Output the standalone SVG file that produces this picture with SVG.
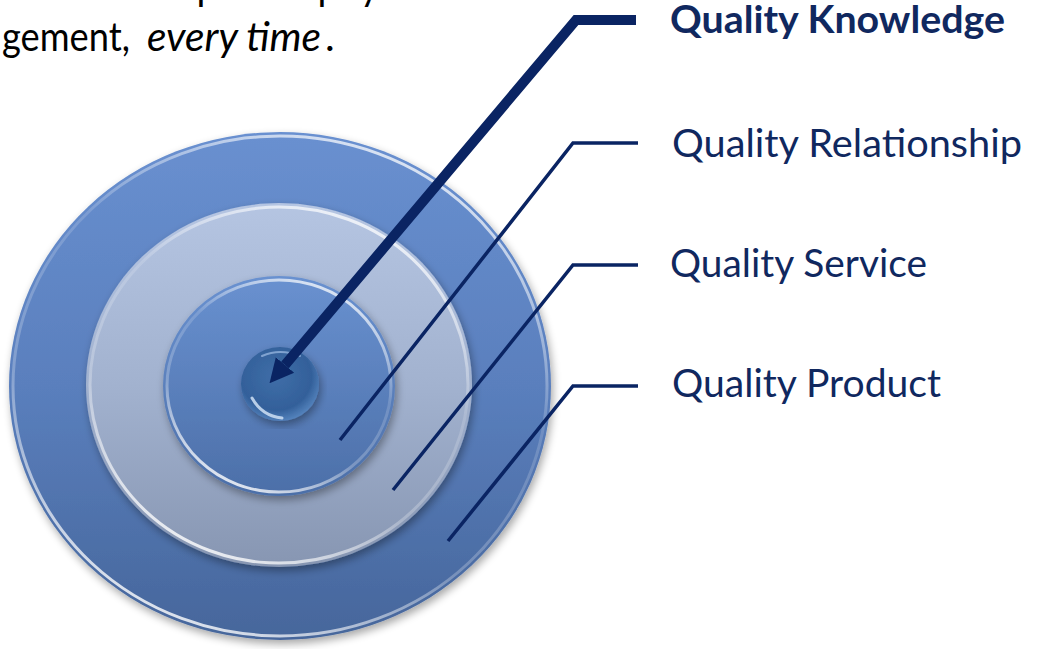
<svg xmlns="http://www.w3.org/2000/svg" width="1038" height="649" viewBox="0 0 1038 649">
  <style>
    .body { font-family: Lato, "Open Sans", "Liberation Sans", sans-serif; font-size: 41px; fill: #000; }
    .lbl { font-family: Lato, "Open Sans", "Liberation Sans", sans-serif; font-size: 38px; fill: #10285f; }
    .bold { font-weight: bold; }
    .conn { fill: none; stroke: #0a2463; stroke-linejoin: miter; }
    .thin { stroke-width: 3.5; }
    .thick { stroke-width: 10; }
    .rim { fill: none; stroke: url(#gRim); stroke-width: 3; }
  </style>
  <defs>
    <linearGradient id="gOuter" x1="0" y1="0" x2="0" y2="1">
      <stop offset="0" stop-color="#6990d0"/>
      <stop offset="0.5" stop-color="#5a7fbd"/>
      <stop offset="1" stop-color="#46669b"/>
    </linearGradient>
    <linearGradient id="gLight" x1="0" y1="0" x2="0" y2="1">
      <stop offset="0" stop-color="#b5c5e2"/>
      <stop offset="0.5" stop-color="#a2b2cf"/>
      <stop offset="1" stop-color="#8796b2"/>
    </linearGradient>
    <linearGradient id="gInner" x1="0" y1="0" x2="0" y2="1">
      <stop offset="0" stop-color="#6991d0"/>
      <stop offset="1" stop-color="#4c6fa8"/>
    </linearGradient>
    <radialGradient id="gBull" cx="0.45" cy="0.4" r="0.65">
      <stop offset="0" stop-color="#3f6ea8"/>
      <stop offset="0.7" stop-color="#33609a"/>
      <stop offset="1" stop-color="#5d8cc6"/>
    </radialGradient>
    <linearGradient id="gRim" x1="0.2" y1="1" x2="0.7" y2="0">
      <stop offset="0" stop-color="#ffffff" stop-opacity="0.95"/>
      <stop offset="0.35" stop-color="#ffffff" stop-opacity="0.25"/>
      <stop offset="0.65" stop-color="#ffffff" stop-opacity="0.15"/>
      <stop offset="1" stop-color="#ffffff" stop-opacity="0.8"/>
    </linearGradient>
    <filter id="shadow" x="-10%" y="-10%" width="120%" height="120%">
      <feGaussianBlur in="SourceAlpha" stdDeviation="4"/>
      <feOffset dx="2" dy="4" result="b"/>
      <feComponentTransfer><feFuncA type="linear" slope="0.35"/></feComponentTransfer>
      <feMerge><feMergeNode/><feMergeNode in="SourceGraphic"/></feMerge>
    </filter>
    <marker id="arrow" viewBox="0 0 10 10" refX="0" refY="5" markerWidth="2.4" markerHeight="2.6" orient="auto">
      <path d="M0,0 L10,5 L0,10 z" fill="#0a2463"/>
    </marker>
  </defs>

  <g id="intro-text">
    <text class="body" x="1" y="0" textLength="422" lengthAdjust="spacingAndGlyphs">creates the philosophy of</text>
    <text class="body" x="2" y="51" textLength="128" lengthAdjust="spacingAndGlyphs">gement,</text>
    <text class="body" x="147" y="51" font-style="italic" textLength="174" lengthAdjust="spacingAndGlyphs">every time</text>
    <text class="body" x="325" y="51">.</text>
  </g>

  <g id="ring-product" filter="url(#shadow)">
    <ellipse cx="280" cy="386" rx="271" ry="254" fill="url(#gOuter)"/>
    <ellipse class="rim" cx="280" cy="386" rx="267" ry="250"/>
  </g>
  <g id="ring-service" filter="url(#shadow)">
    <ellipse cx="279" cy="385" rx="193" ry="182" fill="url(#gLight)"/>
    <ellipse class="rim" cx="279" cy="385" rx="189" ry="178"/>
  </g>
  <g id="ring-relationship" filter="url(#shadow)">
    <ellipse cx="279" cy="386" rx="116" ry="110" fill="url(#gInner)"/>
    <ellipse class="rim" cx="279" cy="386" rx="112" ry="106"/>
  </g>
  <g id="bullseye-knowledge" filter="url(#shadow)">
    <ellipse cx="280" cy="384" rx="39" ry="37" fill="url(#gBull)"/>
    <path d="M252,398 Q262,416 282,418" fill="none" stroke="#cfe0f5" stroke-width="3" stroke-linecap="round" opacity="0.85"/>
    <path d="M262,356 Q280,348 300,356" fill="none" stroke="#9fbde6" stroke-width="2" stroke-linecap="round" opacity="0.7"/>
  </g>

  <g id="connectors">
    <polyline class="conn thick" points="636,20 576,20 285,365" marker-end="url(#arrow)"/>
    <polyline class="conn thin" points="638,143 573,143 340,440"/>
    <polyline class="conn thin" points="638,265 573,265 393,490"/>
    <polyline class="conn thin" points="638,386 573,386 448,541"/>
  </g>

  <g id="label-knowledge">
    <text class="lbl bold" x="670" y="33" textLength="335" lengthAdjust="spacingAndGlyphs">Quality Knowledge</text>
  </g>
  <g id="label-relationship">
    <text class="lbl" x="672" y="157" textLength="350" lengthAdjust="spacingAndGlyphs">Quality Relationship</text>
  </g>
  <g id="label-service">
    <text class="lbl" x="670" y="277" textLength="257" lengthAdjust="spacingAndGlyphs">Quality Service</text>
  </g>
  <g id="label-product">
    <text class="lbl" x="672" y="397" textLength="269" lengthAdjust="spacingAndGlyphs">Quality Product</text>
  </g>
</svg>
